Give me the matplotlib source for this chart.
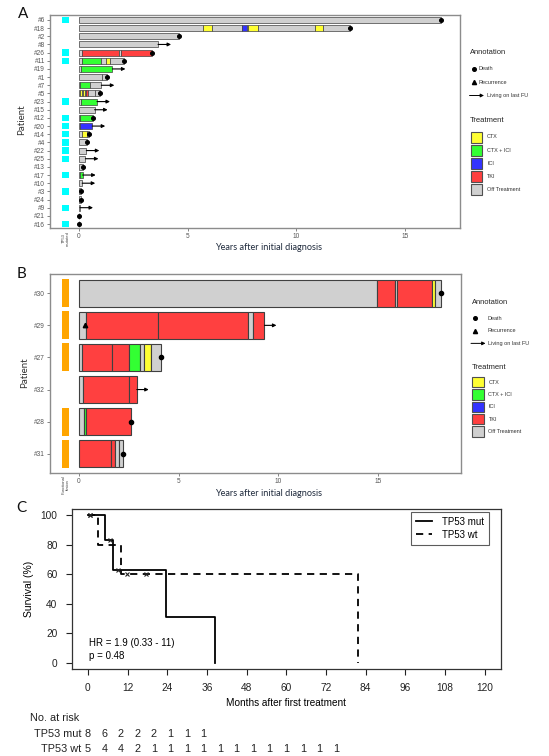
import matplotlib
matplotlib.use("Agg")
import matplotlib.pyplot as plt
from matplotlib.patches import Rectangle

W, H = 549, 756

# ---------------- data ----------------
treat_codes = ["C", "CI", "I", "T", "O"]
treat_labels = ["CTX", "CTX + ICI", "ICI", "TKI", "Off Treatment"]
treat_colors = ["#FFFF33", "#33FF33", "#3333FF", "#FF4040", "#D0D0D0"]

# panel A
a_patients = ["#6", "#18", "#2", "#8", "#26", "#11", "#19", "#1", "#7", "#5", "#23", "#15", "#12",
              "#20", "#14", "#4", "#22", "#25", "#13", "#17", "#10", "#3", "#24", "#9", "#21", "#16"]
a_tp53 = [1, 0, 0, 0, 1, 1, 0, 0, 0, 0, 1, 0, 1, 1, 1, 1, 1, 1, 0, 1, 0, 1, 0, 1, 0, 1]
a_status = ["D", "D", "D", "A", "D", "D", "A", "D", "A", "D", "A", "A", "D",
            "A", "D", "D", "A", "A", "D", "A", "A", "D", "D", "A", "D", "D"]
a_segments = [
    ("#6", 0, 16.65, "O"),
    ("#18", 0, 5.69, "O"), ("#18", 5.69, 6.13, "C"), ("#18", 6.13, 7.48, "O"), ("#18", 7.48, 7.74, "I"),
    ("#18", 7.74, 7.79, "O"), ("#18", 7.79, 8.25, "C"), ("#18", 8.25, 10.86, "O"),
    ("#18", 10.86, 11.24, "C"), ("#18", 11.24, 12.47, "O"),
    ("#2", 0, 4.61, "O"),
    ("#8", 0, 3.64, "O"),
    ("#26", 0, 0.15, "O"), ("#26", 0.15, 1.84, "T"), ("#26", 1.84, 1.92, "O"), ("#26", 1.92, 3.34, "T"),
    ("#11", 0, 0.12, "O"), ("#11", 0.12, 1.03, "CI"), ("#11", 1.03, 1.23, "O"), ("#11", 1.23, 1.41, "C"),
    ("#11", 1.41, 2.06, "O"),
    ("#19", 0, 0.1, "O"), ("#19", 0.1, 1.54, "CI"),
    ("#1", 0, 1.05, "O"), ("#1", 1.05, 1.3, "O"),
    ("#7", 0, 0.06, "O"), ("#7", 0.06, 0.52, "CI"), ("#7", 0.52, 1.03, "O"),
    ("#5", 0, 0.05, "O"), ("#5", 0.05, 0.12, "C"), ("#5", 0.12, 0.18, "O"), ("#5", 0.18, 0.26, "C"),
    ("#5", 0.26, 0.33, "O"), ("#5", 0.33, 0.4, "T"), ("#5", 0.4, 0.72, "O"), ("#5", 0.72, 0.95, "O"),
    ("#23", 0, 0.08, "O"), ("#23", 0.08, 0.83, "CI"),
    ("#15", 0, 0.72, "O"),
    ("#12", 0, 0.06, "O"), ("#12", 0.06, 0.67, "CI"),
    ("#20", 0, 0.04, "O"), ("#20", 0.04, 0.61, "I"),
    ("#14", 0, 0.14, "O"), ("#14", 0.14, 0.39, "C"), ("#14", 0.39, 0.45, "O"),
    ("#4", 0, 0.38, "O"),
    ("#22", 0, 0.34, "O"),
    ("#25", 0, 0.3, "O"),
    ("#13", 0, 0.18, "O"),
    ("#17", 0, 0.06, "O"), ("#17", 0.06, 0.17, "CI"),
    ("#10", 0, 0.15, "O"),
    ("#3", 0, 0.1, "O"),
    ("#24", 0, 0.1, "O"),
    ("#9", 0, 0.05, "O"),
    ("#21", 0, 0.02, "O"),
    ("#16", 0, 0.02, "O"),
]

# panel B
b_patients = ["#30", "#29", "#27", "#32", "#28", "#31"]
b_fusion = [1, 1, 1, 0, 1, 1]
b_status = ["D", "A", "D", "A", "D", "D"]
b_recur_patient = ["#29"]
b_recur_time = [0.3]
b_segments = [
    ("#30", 0, 14.92, "O"), ("#30", 14.92, 15.85, "T"), ("#30", 15.85, 15.95, "O"), ("#30", 15.95, 17.72, "T"),
    ("#30", 17.72, 17.83, "C"), ("#30", 17.83, 18.17, "O"),
    ("#29", 0, 0.35, "O"), ("#29", 0.35, 3.98, "T"), ("#29", 3.98, 8.47, "T"), ("#29", 8.47, 8.72, "O"),
    ("#29", 8.72, 9.3, "T"),
    ("#27", 0, 0.16, "O"), ("#27", 0.16, 1.66, "T"), ("#27", 1.66, 2.52, "T"), ("#27", 2.52, 3.05, "CI"),
    ("#27", 3.05, 3.25, "O"), ("#27", 3.25, 3.63, "C"), ("#27", 3.63, 4.13, "O"),
    ("#32", 0, 0.18, "O"), ("#32", 0.18, 2.52, "T"), ("#32", 2.52, 2.9, "T"),
    ("#28", 0, 0.27, "O"), ("#28", 0.27, 0.33, "CI"), ("#28", 0.33, 2.63, "T"),
    ("#31", 0, 1.63, "T"), ("#31", 1.63, 1.83, "T"), ("#31", 1.83, 1.99, "O"), ("#31", 1.99, 2.22, "O"),
]

# panel C (Kaplan-Meier)
mut_time = [0, 5.2, 7.7, 23.5, 38.3]
mut_surv = [100, 83.3, 62.5, 31.25, 0]
mut_cens_t = [0.5, 6.7, 9.2]
mut_cens_s = [100, 83.3, 62.5]
wt_time = [0, 3.0, 10.0, 81.8]
wt_surv = [100, 80, 60, 0]
wt_cens_t = [0.5, 11.8, 17.5]
wt_cens_s = [100, 60, 60]
risk_times = [0, 5, 10, 15, 20, 25, 30, 35, 40, 45, 50, 55, 60, 65, 70, 75]
risk_mut = [8, 6, 2, 2, 2, 1, 1, 1]
risk_wt = [5, 4, 4, 2, 1, 1, 1, 1, 1, 1, 1, 1, 1, 1, 1, 1]
km_xticks = [0, 12, 24, 36, 48, 60, 72, 84, 96, 108, 120]
km_yticks = [0, 20, 40, 60, 80, 100]

treat_color = dict(zip(treat_codes, treat_colors))
SANS = ["Lato", "DejaVu Sans"]
ARIAL = ["Liberation Sans", "DejaVu Sans"]
TICKGREY = "#555555"


def frame(l, t, r, b):
    return [l / W, 1 - b / H, (r - l) / W, (b - t) / H]


def swimmer(ax, patients, flags, flag_color, flag_left, flag_w, status, segments,
            bar_h, seg_lw, dot_ms, head, arrow_len):
    row = {p: i for i, p in enumerate(patients)}
    ends = {}
    for p, s, e, code in segments:
        ax.barh(row[p], e - s, left=s, height=bar_h, color=treat_color[code],
                edgecolor="#404040", linewidth=seg_lw, zorder=2)
        ends[p] = max(ends.get(p, 0), e)
    for p, st in zip(patients, status):
        end = ends.get(p, 0)
        if st == "D":
            ax.plot(end, row[p], "o", color="black", ms=dot_ms, zorder=5)
        else:
            ax.annotate("", xy=(end + arrow_len, row[p]), xytext=(end, row[p]),
                        arrowprops=dict(arrowstyle="-|>", color="black", lw=0.8,
                                        shrinkA=0, shrinkB=0, mutation_scale=head), zorder=5)
    for p, f in zip(patients, flags):
        if f:
            ax.barh(row[p], flag_w, left=flag_left, height=bar_h * 1.05, color=flag_color,
                    linewidth=0, zorder=2)
    ax.set_yticks(range(len(patients)))
    ax.set_yticklabels(patients)
    ax.set_xticks([0, 5, 10, 15])
    ax.tick_params(labelsize=4.7, colors=TICKGREY, length=2, width=0.5, pad=1.5)
    for lab in ax.get_xticklabels() + ax.get_yticklabels():
        lab.set_family(ARIAL)
    for sp in ax.spines.values():
        sp.set_color("#8c8c8c")
        sp.set_linewidth(1.0)


def annot_legend(ov, x0, ytop, s, txt_dx):
    ov.text(x0, ytop, "Annotation", fontsize=5.4, family=ARIAL, va="center", ha="left", color="#222222")
    y1, y2, y3 = ytop + 16.5 * s, ytop + 30 * s, ytop + 43.5 * s
    ov.plot(x0 + 3.5, y1, "o", color="black", ms=2.6)
    ov.text(x0 + txt_dx, y1, "Death", fontsize=4.0, family=ARIAL, va="center", color="#333333")
    ov.plot(x0 + 3.5, y2, "^", color="black", ms=3.0)
    ov.text(x0 + txt_dx, y2, "Recurrence", fontsize=4.0, family=ARIAL, va="center", color="#333333")
    ov.annotate("", xy=(x0 + 14, y3), xytext=(x0 - 0.5, y3),
                arrowprops=dict(arrowstyle="-|>", color="black", lw=0.7, shrinkA=0, shrinkB=0,
                                mutation_scale=5))
    ov.text(x0 + 17, y3, "Living on last FU", fontsize=4.0, family=ARIAL, va="center", color="#333333")
    ov.text(x0, ytop + 69 * s, "Treatment", fontsize=5.5, family=ARIAL, va="center", ha="left",
            color="#222222")
    for k, (lab, col) in enumerate(zip(treat_labels, treat_colors)):
        yc = ytop + (85 + 13.2 * k) * s
        ov.add_patch(Rectangle((x0 + 0.5, yc - 5.5 * s), 11.5, 11 * s, facecolor=col,
                               edgecolor="#505050", linewidth=0.8))
        ov.text(x0 + 17, yc, lab, fontsize=4.0, family=ARIAL, va="center", color="#333333")


fig = plt.figure(figsize=(W / 100, H / 100), dpi=100)

# ---------------- panel A ----------------
axA = fig.add_axes(frame(50, 15, 460, 228))
swimmer(axA, a_patients, a_tp53, "#00FFFF", -0.8, 0.35, a_status, a_segments,
        bar_h=0.74, seg_lw=0.5, dot_ms=2.6, head=5, arrow_len=0.6)
axA.set_xlim(-1.33, 17.53)
axA.set_ylim(len(a_patients) - 0.51, -0.61)

# ---------------- panel B ----------------
axB = fig.add_axes(frame(50, 274, 461, 473))
swimmer(axB, b_patients, b_fusion, "#FFA500", -0.87, 0.38, b_status, b_segments,
        bar_h=0.83, seg_lw=0.8, dot_ms=3.0, head=5, arrow_len=0.6)
for p, t in zip(b_recur_patient, b_recur_time):
    axB.plot(t, b_patients.index(p), "^", color="black", ms=3.2, zorder=6)
axB.set_xlim(-1.45, 19.15)
axB.set_ylim(len(b_patients) - 0.4, -0.6)

# ---------------- panel C ----------------
axC = fig.add_axes(frame(72, 509, 500.5, 668.8))
axC.step(mut_time, mut_surv, where="post", color="black", lw=1.3, label="TP53 mut")
axC.step(wt_time, wt_surv, where="post", color="black", lw=1.3, ls=(0, (4, 3)), label="TP53 wt")
axC.plot(mut_cens_t, mut_cens_s, "x", color="#222222", ms=3.5, mew=0.8)
axC.plot(wt_cens_t, wt_cens_s, "x", color="#222222", ms=3.5, mew=0.8)
axC.set_xlim(-4.8, 124.8)
axC.set_ylim(-4, 104)
axC.set_xticks(km_xticks)
axC.set_yticks(km_yticks)
axC.tick_params(labelsize=7.3, length=4.5, width=0.8, colors="#222222", pad=6)
for lab in axC.get_xticklabels() + axC.get_yticklabels():
    lab.set_family(ARIAL)
for sp in axC.spines.values():
    sp.set_color("#333333")
    sp.set_linewidth(0.9)
axC.set_ylabel("Survival (%)", fontsize=7.5, family=ARIAL, labelpad=5)
axC.set_xlabel("Months after first treatment", fontsize=7.2, family=ARIAL, labelpad=3)
axC.text(0.04, 0.145, "HR = 1.9 (0.33 - 11)", transform=axC.transAxes, fontsize=7, family=ARIAL)
axC.text(0.04, 0.06, "p = 0.48", transform=axC.transAxes, fontsize=7, family=ARIAL)
leg = axC.legend(loc="upper right", bbox_to_anchor=(489 / W, 1 - 512 / H), bbox_transform=fig.transFigure,
                 borderaxespad=0, fancybox=False, edgecolor="#333333", handlelength=1.7,
                 handletextpad=1.0, prop={"family": ARIAL, "size": 7}, borderpad=0.5, labelspacing=0.3)
leg.get_frame().set_linewidth(0.8)

# ---------------- overlay: letters, labels, legends, at-risk table ----------------
ov = fig.add_axes([0, 0, 1, 1], zorder=10)
ov.set_xlim(0, W)
ov.set_ylim(H, 0)
ov.axis("off")

for letter, (x, y) in zip("ABC", [(23, 14), (22, 274), (21, 508)]):
    ov.text(x, y, letter, fontsize=11, family=SANS, ha="center", va="center", color="#111111")

ov.text(22, 120, "Patient", rotation=90, fontsize=7, family=SANS, ha="center", va="center", color="#333333")
ov.text(25, 373, "Patient", rotation=90, fontsize=7, family=SANS, ha="center", va="center", color="#333333")
ov.text(269, 248, "Years after initial diagnosis", fontsize=6.6, family=SANS, ha="center", va="center",
        color="#1f2a3c")
ov.text(269, 494, "Years after initial diagnosis", fontsize=6.6, family=SANS, ha="center", va="center",
        color="#1f2a3c")
ov.text(65.5, 231, "TP53\nmutated", rotation=90, fontsize=3.0, family=ARIAL, ha="center", va="top",
        color="#444444", linespacing=1.0)
ov.text(65.5, 475, "Functional\nfusion", rotation=90, fontsize=3.0, family=ARIAL, ha="center", va="top",
        color="#444444", linespacing=1.0)

annot_legend(ov, 470, 52, 1.0, 8.5)
annot_legend(ov, 471.5, 302.7, 0.935, 16.5)

ov.text(30, 718, "No. at risk", fontsize=7.8, family=ARIAL, va="center", color="#222222")
ov.text(81, 734, "TP53 mut", fontsize=7.8, family=ARIAL, va="center", ha="right", color="#222222")
ov.text(81, 749, "TP53 wt", fontsize=7.8, family=ARIAL, va="center", ha="right", color="#222222")
to_px = lambda t: ov.transData.inverted().transform(axC.transData.transform((t, 0)))[0]
for t, n in zip(risk_times, risk_mut):
    ov.text(to_px(t), 734, str(n), fontsize=7.8, family=ARIAL, ha="center", va="center", color="#222222")
for t, n in zip(risk_times, risk_wt):
    ov.text(to_px(t), 749, str(n), fontsize=7.8, family=ARIAL, ha="center", va="center", color="#222222")

fig.savefig("out.png", dpi=100)
